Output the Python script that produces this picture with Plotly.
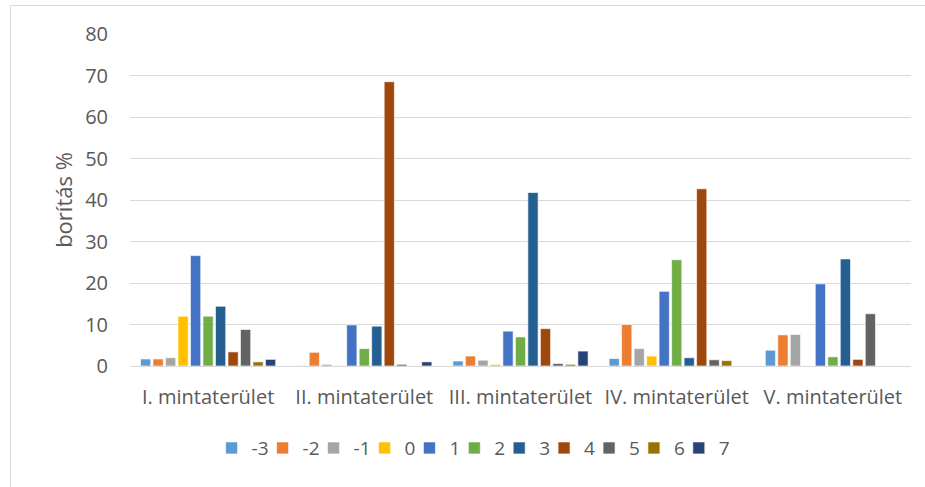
import plotly.graph_objects as go

# Sample areas (x categories)
areas = ["I. mintaterület", "II. mintaterület", "III. mintaterület",
         "IV. mintaterület", "V. mintaterület"]

# Series names and coverage values (%) per area
series_names = ["-3", "-2", "-1", "0", "1", "2", "3", "4", "5", "6", "7"]
s_m3 = [1.7, 0.1, 1.2, 1.8, 3.8]
s_m2 = [1.7, 3.3, 2.4, 10.0, 7.5]
s_m1 = [2.0, 0.4, 1.4, 4.2, 7.6]
s_0 = [12.0, 0.1, 0.4, 2.4, 0.0]
s_1 = [26.6, 9.9, 8.4, 18.0, 19.8]
s_2 = [12.0, 4.2, 7.0, 25.6, 2.2]
s_3 = [14.4, 9.6, 41.8, 2.0, 25.8]
s_4 = [3.4, 68.5, 9.0, 42.7, 1.6]
s_5 = [8.8, 0.4, 0.6, 1.5, 12.6]
s_6 = [1.0, 0.0, 0.4, 1.3, 0.0]
s_7 = [1.6, 1.0, 3.6, 0.0, 0.0]
series_values = [s_m3, s_m2, s_m1, s_0, s_1, s_2, s_3, s_4, s_5, s_6, s_7]

colors = ["#5B9BD5", "#ED7D31", "#A5A5A5", "#FFC000", "#4472C4", "#70AD47",
          "#255E91", "#9E480E", "#636363", "#997300", "#264478"]

FONT = "Open Sans, Liberation Sans, Arial, sans-serif"
TXT = "#595959"
FS = 20

fig = go.Figure()
for name, vals, col in zip(series_names, series_values, colors):
    fig.add_trace(go.Bar(
        x=areas, y=vals, name=name,
        marker=dict(color=col, line=dict(color="rgba(255,255,255,0.8)", width=0.8)),
    ))

W, H = 925, 487
L, R, T, B = 130, 14, 34, 121
pw = W - L - R
ph = H - T - B

fig.update_layout(
    width=W, height=H,
    margin=dict(l=L, r=R, t=T, b=B, pad=0),
    paper_bgcolor="white", plot_bgcolor="white",
    barmode="group", bargap=0.12, bargroupgap=0.18,
    font=dict(family=FONT, color=TXT, size=FS),
    showlegend=True,
    legend=dict(orientation="h", x=0.447, xanchor="center", y=-0.19, yanchor="top",
                font=dict(size=FS - 1, color=TXT), itemwidth=30, indentation=-11,
                traceorder="normal"),
    xaxis=dict(showgrid=False, showline=False, ticks="", zeroline=False,
               tickfont=dict(size=FS, color=TXT), ticklabelstandoff=17),
    yaxis=dict(range=[0, 80], dtick=10, showgrid=True, gridcolor="#D9D9D9",
               gridwidth=1, zeroline=True, zerolinecolor="#D9D9D9", zerolinewidth=1,
               showline=False, ticks="", tickfont=dict(size=FS, color=TXT),
               ticklabelstandoff=21,
               title=dict(text="borítás %", font=dict(size=22, color=TXT), standoff=6)),
    shapes=[dict(type="rect", xref="paper", yref="paper",
                 x0=(10.5 - L) / pw, x1=(W + 5 - L) / pw,
                 y0=-(B + 10) / ph, y1=(H - 5.5 - B) / ph,
                 line=dict(color="#D9D9D9", width=1), fillcolor="rgba(0,0,0,0)",
                 layer="below")],
)

fig.write_html("out.html")
